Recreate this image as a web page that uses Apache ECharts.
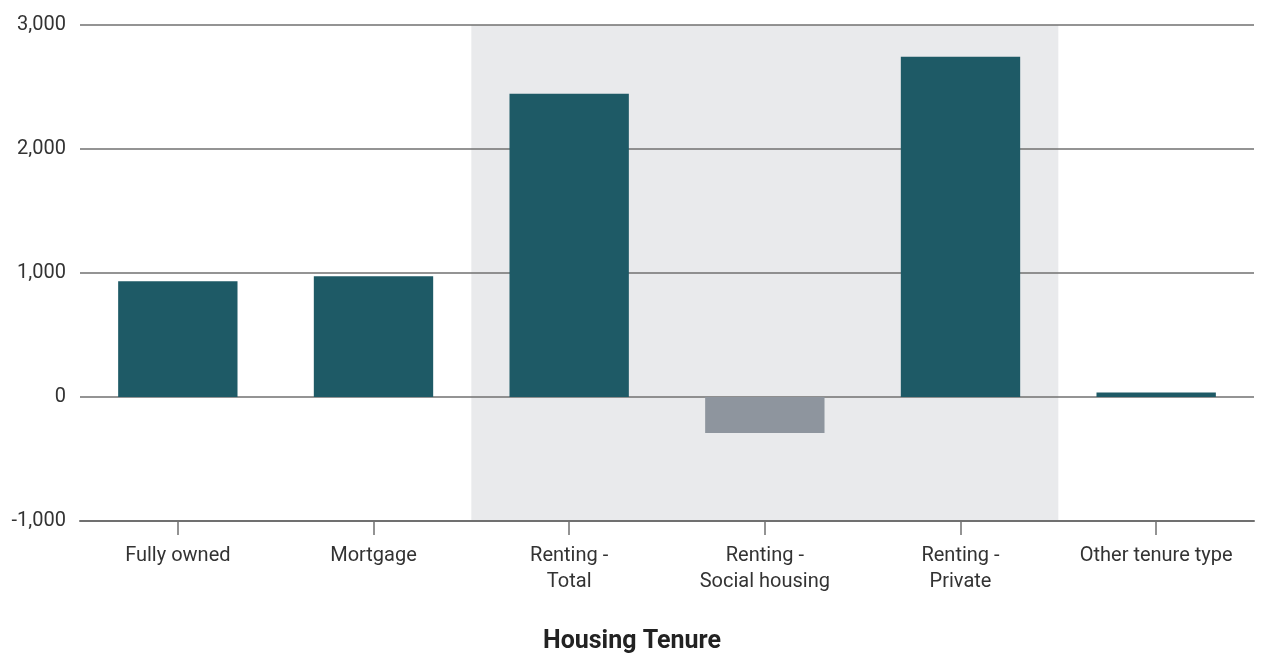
<!DOCTYPE html>
<html>
<head>
<meta charset="utf-8">
<script src="https://cdn.jsdelivr.net/npm/echarts@6/dist/echarts.min.js"></script>
<style>
  html, body { margin: 0; padding: 0; background: #fff; }
  #housing-tenure-chart { width: 1264px; height: 653px; }
</style>
</head>
<body>
<div id="housing-tenure-chart"></div>
<script>
const categories = [
  "Fully owned",
  "Mortgage",
  "Renting -\nTotal",
  "Renting -\nSocial housing",
  "Renting -\nPrivate",
  "Other tenure type"
];
const values = [933, 973, 2446, -290, 2743, 36];
const barColors = ["#1e5a66", "#1e5a66", "#1e5a66", "#8e959e", "#1e5a66", "#1e5a66"];
const yTicks = { min: -1000, max: 3000, interval: 1000 };
// shaded band covers the renting categories (index 2..4 inclusive)
const shadedStart = 2;
const shadedEnd = 5;

const chart = echarts.init(document.getElementById("housing-tenure-chart"));

const option = {
  animation: false,
  textStyle: { fontFamily: "Roboto" },
  title: {
    text: "Housing Tenure",
    left: "center",
    top: 624,
    textStyle: { color: "#222", fontSize: 25, fontWeight: "bold" }
  },
  grid: { left: 80, right: 10, top: 25, bottom: 132 },
  xAxis: [
    {
      type: "category",
      data: categories,
      z: 2,
      axisLine: { onZero: false, lineStyle: { color: "#707070", width: 2 } },
      axisTick: { show: true, alignWithLabel: true, length: 14, lineStyle: { color: "#707070", width: 1.5 } },
      axisLabel: { color: "#333", fontSize: 20, lineHeight: 26, margin: 22, interval: 0 }
    },
    {
      // hidden helper axis so the shaded band spans whole category bands
      type: "value",
      min: 0,
      max: categories.length,
      show: false
    }
  ],
  yAxis: {
    type: "value",
    min: yTicks.min,
    max: yTicks.max,
    interval: yTicks.interval,
    z: 2,
    axisLine: { show: false },
    axisTick: { show: false },
    splitLine: { lineStyle: { color: "#707070", width: 1.5 } },
    axisLabel: {
      color: "#333",
      fontSize: 20,
      margin: 14,
      formatter: function (v) {
        return v.toLocaleString("en-US");
      }
    }
  },
  series: [
    {
      type: "scatter",
      xAxisIndex: 1,
      data: [],
      silent: true,
      z: 1,
      markArea: {
        silent: true,
        z: 1,
        itemStyle: { color: "#e9eaec" },
        data: [[
          { xAxis: shadedStart, yAxis: yTicks.min },
          { xAxis: shadedEnd, yAxis: yTicks.max }
        ]]
      }
    },
    {
      type: "bar",
      barWidth: "61%",
      data: values.map(function (v, i) {
        return { value: v, itemStyle: { color: barColors[i] } };
      }),
      z: 3
    }
  ]
};

chart.setOption(option);
</script>
</body>
</html>
